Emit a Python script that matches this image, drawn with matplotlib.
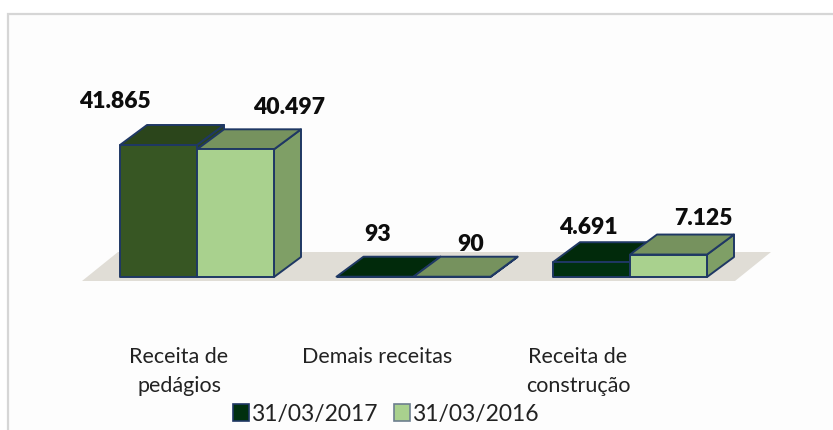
import matplotlib
matplotlib.use('Agg')
import matplotlib.pyplot as plt
from matplotlib.patches import Polygon, Patch, Rectangle

# ── data ──────────────────────────────────────────────────────────────────────
categories = ['Receita de\npedágios', 'Demais receitas', 'Receita de\nconstrução']
series_names = ['31/03/2017', '31/03/2016']
values_2017 = [41865, 93, 4691]
values_2016 = [40497, 90, 7125]
labels_2017 = ['41.865', '93', '4.691']
labels_2016 = ['40.497', '90', '7.125']

# ── style / layout ────────────────────────────────────────────────────────────
W, H = 833, 430
PX_X = 216.5                 # pixels per category unit
PX_V = 132 / 41865           # pixels per value unit
X0, BASE = 197, 277          # pixel of category 0 / zero line

bar_w = 77 / PX_X
dx = 27 / PX_X               # 3d depth, x
dy = 20 / PX_V               # 3d depth, y

edge = '#1f3864'
# per group face colours (front, top, side) for each series
dark_cols = [('#375623', '#2b451b', '#2b451b'),
             ('#00300f', '#012a0b', '#012a0b'),
             ('#00300f', '#012a0b', '#012a0b')]
light_cols = ('#a9d18e', '#76925e', '#7f9f66')
floor_col = '#e0ddd6'

# label nudges in pixels (dx, dy) from the centre of the top face
nudge_2017 = [(-57, -34), (-11, -32), (-17, -25)]
nudge_2016 = [(40, -32), (5, -22), (21, -26)]
cat_px = [179, 377, 578]

fig = plt.figure(figsize=(W / 100, H / 100), dpi=100)
fig.patch.set_facecolor('white')
fig.patches.append(Rectangle((8 / W, -0.1), 1.1, (H - 14) / H + 0.1,
                             transform=fig.transFigure, facecolor='#fdfdfd',
                             edgecolor='#d6d6d6', linewidth=1.6, zorder=-5))

ax = fig.add_axes([0, 0, 1, 1])
ax.set_xlim(-X0 / PX_X, (W - X0) / PX_X)
ax.set_ylim((BASE - H) / PX_V, BASE / PX_V)
ax.axis('off')
ax.patch.set_alpha(0)

# ── floor ─────────────────────────────────────────────────────────────────────
fx0, fx1 = (82 - X0) / PX_X, (735 - X0) / PX_X
fy0 = -4 / PX_V
fdx, fdy = 36 / PX_X, 29 / PX_V
ax.add_patch(Polygon([(fx0, fy0), (fx1, fy0), (fx1 + fdx, fy0 + fdy),
                      (fx0 + fdx, fy0 + fdy)], closed=True,
                     facecolor=floor_col, edgecolor='none', zorder=1))


def box(x, v, cols, z):
    front, top, side = cols
    kw = dict(closed=True, edgecolor=edge, linewidth=1.4, joinstyle='round', zorder=z)
    ax.add_patch(Polygon([(x + bar_w, 0), (x + bar_w + dx, dy),
                          (x + bar_w + dx, v + dy), (x + bar_w, v)],
                         facecolor=side, **kw))
    ax.add_patch(Polygon([(x, v), (x + bar_w, v), (x + bar_w + dx, v + dy),
                          (x + dx, v + dy)], facecolor=top, **kw))
    ax.add_patch(Polygon([(x, 0), (x + bar_w, 0), (x + bar_w, v), (x, v)],
                         facecolor=front, **kw))


for i in range(len(categories)):
    box(i - bar_w, values_2017[i], dark_cols[i], 3)
    box(i, values_2016[i], light_cols, 4)

    for x, v, lab, (nx, ny) in [(i - bar_w, values_2017[i], labels_2017[i], nudge_2017[i]),
                                (i, values_2016[i], labels_2016[i], nudge_2016[i])]:
        ax.annotate(lab, (x + bar_w / 2 + dx / 2, v + dy / 2),
                    xytext=(nx * 0.72, -ny * 0.72), textcoords='offset points',
                    ha='center', va='center', fontsize=16.5, fontweight='heavy',
                    family='Lato', color='#0d0d0d', zorder=6)

    ax.text((cat_px[i] - X0) / PX_X, (BASE - 347) / PX_V, categories[i],
            ha='center', va='top', fontsize=15.5, family='Lato', color='#222222',
            linespacing=1.55)

handles = [Patch(facecolor=dark_cols[2][0], edgecolor=edge, linewidth=1.2),
           Patch(facecolor=light_cols[0], edgecolor='#6d7f8f', linewidth=1.2)]
leg = fig.legend(handles, series_names, loc='center', bbox_to_anchor=(386 / W, 1 - 414 / H),
                 ncol=2, frameon=False, prop={'family': 'Lato', 'size': 16.5},
                 handlelength=0.7, handleheight=0.7, handletextpad=0.1,
                 columnspacing=0.7, borderpad=0)
for t in leg.get_texts():
    t.set_color('#222222')

plt.savefig('out.png', dpi=100)
